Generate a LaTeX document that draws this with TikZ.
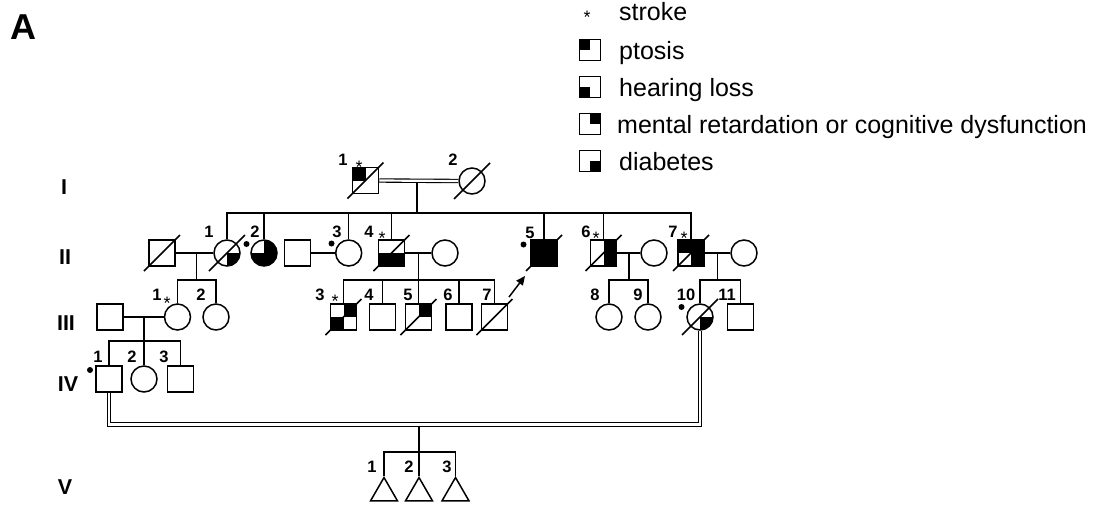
\documentclass[tikz,border=0pt]{standalone}
\usepackage{fontspec}
\setmainfont{Liberation Sans}
\usetikzlibrary{arrows.meta,shapes.geometric}
\newcommand\deceased[1]{\draw[lw] ([shift={(-18,18)}]#1.center) -- ([shift={(18,-18)}]#1.center);}
\begin{document}
\begin{tikzpicture}[x=1pt,y=-1pt,
  lw/.style={line width=1.5pt},
  dbl/.style={double,double distance=2.2pt,line width=1.1pt,line join=miter},
  sq/.style={draw,rectangle,minimum size=26pt,inner sep=0pt,line width=1.5pt,fill=white},
  ci/.style={draw,circle,minimum size=26pt,inner sep=0pt,line width=1.5pt,fill=white},
  lg/.style={draw,rectangle,minimum size=21pt,inner sep=0pt,line width=1.5pt,fill=white},
  tri/.style={draw,regular polygon,regular polygon sides=3,minimum size=31pt,inner sep=0pt,line width=1.5pt},
  q/.style={path picture={\foreach \c in {#1}{\fill[black] (path picture bounding box.center) rectangle (path picture bounding box.\c);}}},
  num/.style={font=\fontsize{16.5}{18}\selectfont\bfseries,inner sep=0pt},
  gen/.style={font=\fontsize{21.5}{24}\selectfont\bfseries,inner sep=0pt},
  st/.style={font=\fontsize{18}{18}\selectfont,inner sep=0pt},
  lt/.style={font=\fontsize{25}{28}\selectfont,inner sep=0pt,anchor=base west},
  dotst/.style={circle,fill=black,inner sep=0pt,minimum size=6pt}]
\useasboundingbox (0,0) rectangle (1099,507);

% title and generation labels
\node[font=\fontsize{36}{38}\selectfont\bfseries,inner sep=0pt] (tA) at (23,27) {A};
\node[gen] (gI) at (64,187) {I};
\node[gen] (gII) at (65,257) {II};
\node[gen] (gIII) at (66,323) {III};
\node[gen] (gIV) at (68,384) {IV};
\node[gen] (gV) at (65,487) {V};

% legend
\node[st] (lgs) at (587,17) {*};
\node[lt] (lgst) at (619,20) {stroke};
\node[lg,q={north west}] (lg1) at (590,50) {};
\node[lt] (lgt1) at (619,59) {ptosis};
\node[lg,q={south west}] (lg2) at (590,87) {};
\node[lt] (lgt2) at (619,96) {hearing loss};
\node[lg,q={north east}] (lg3) at (590,124) {};
\node[lt] (lgt3) at (617,133) {mental retardation or cognitive dysfunction};
\node[lg,q={south east}] (lg4) at (590,161) {};
\node[lt] (lgt4) at (619,170) {diabetes};

% Generation I
\node[sq,q={north west}] (I1) at (365.5,180.5) {};
\node[ci] (I2) at (472,181) {};
\deceased{I1}\deceased{I2}
\draw[dbl] (I1.east) -- (I2.west);
\node[num] (nI1) at (343,160) {1};
\node[st] (sI1) at (359,167) {*};
\node[num] (nI2) at (453,160) {2};
\coordinate (Im) at (417,183);
\coordinate (Isib) at (417,213);
\draw[lw] (Im) -- (Isib);

% Generation II
\node[sq] (IIh1) at (162,253) {};
\node[ci,q={south east}] (II1) at (227,253) {};
\node[ci,q={south west,north east,south east}] (II2) at (264,253) {};
\node[sq] (IIh3) at (297.5,253) {};
\node[ci] (II3) at (348.7,253) {};
\node[sq,q={south west,south east}] (II4) at (391.5,253) {};
\node[ci] (IIw4) at (445,253) {};
\node[sq,fill=black] (II5) at (544,253) {};
\node[sq,q={north east,south east}] (II6) at (603.5,253) {};
\node[ci] (IIw6) at (654,253) {};
\node[sq,q={north west,north east,south east}] (II7) at (691,253) {};
\node[ci] (IIw7) at (744,253) {};
\deceased{IIh1}\deceased{II1}\deceased{II4}\deceased{II5}\deceased{II6}\deceased{II7}

\draw[lw] (II1.north) -- (II1.north |- Isib) -- (II7.north |- Isib) -- (II7.north);
\foreach \n in {II2,II3,II4,II5,II6} \draw[lw] (\n.north) -- (\n.north |- Isib);

\draw[lw] (IIh1) -- (II1);
\draw[lw] (IIh3) -- (II3);
\draw[lw] (II4) -- (IIw4);
\draw[lw] (II6) -- (IIw6);
\draw[lw] (II7) -- (IIw7);

\node[num] (nII1) at (209,232) {1};
\node[num] (nII2) at (255,232) {2};
\node[dotst] (dII2) at (246.5,244) {};
\node[num] (nII3) at (337,232) {3};
\node[dotst] (dII3) at (331.5,243.5) {};
\node[num] (nII4) at (369,232) {4};
\node[st] (sII4) at (382,238) {*};
\node[num] (nII5) at (530,233) {5};
\node[dotst] (dII5) at (523.5,244.5) {};
\node[num] (nII6) at (586,232) {6};
\node[st] (sII6) at (596,238) {*};
\node[num] (nII7) at (673,232) {7};
\node[st] (sII7) at (684,238) {*};

% proband arrow
\coordinate (arrS) at (509,297);
\coordinate (arrE) at (525,276);
\draw[lw,-{Triangle[length=9pt,width=8pt]}] (arrS) -- (arrE);

% Generation III
\node[sq] (IIIh1) at (110,317) {};
\node[ci] (III1) at (177.5,317) {};
\node[ci] (III2) at (216,317) {};
\node[sq,q={north east,south west}] (III3) at (343.5,317) {};
\node[sq] (III4) at (382.5,317) {};
\node[sq,q={north east}] (III5) at (418.5,317) {};
\node[sq] (III6) at (459,317) {};
\node[sq] (III7) at (494.5,317) {};
\node[ci] (III8) at (609,317) {};
\node[ci] (III9) at (648,317) {};
\node[ci,q={south east}] (III10) at (700,317) {};
\node[sq] (III11) at (740.5,317) {};
\deceased{III3}\deceased{III5}\deceased{III7}\deceased{III10}

\coordinate (m1) at (196.5,253); \coordinate (s1) at (196.5,280);
\draw[lw] (m1) -- (s1);
\draw[lw] (III1.north) -- (III1.north |- s1) -- (III2.north |- s1) -- (III2.north);

\coordinate (m4) at (418.5,253); \coordinate (s4) at (418.5,280);
\draw[lw] (m4) -- (III5.north);
\draw[lw] (III3.north) -- (III3.north |- s4) -- (III7.north |- s4) -- (III7.north);
\foreach \n in {III4,III6} \draw[lw] (\n.north) -- (\n.north |- s4);

\coordinate (m6) at (629,253); \coordinate (s6) at (629,280);
\draw[lw] (m6) -- (s6);
\draw[lw] (III8.north) -- (III8.north |- s6) -- (III9.north |- s6) -- (III9.north);

\coordinate (m7) at (717.5,253); \coordinate (s7) at (717.5,280);
\draw[lw] (m7) -- (s7);
\draw[lw] (III10.north) -- (III10.north |- s7) -- (III11.north |- s7) -- (III11.north);

\draw[lw] (IIIh1) -- (III1);

\node[num] (nIII1) at (157,295) {1};
\node[st] (sIII1) at (167,303) {*};
\node[num] (nIII2) at (201,295) {2};
\node[num] (nIII3) at (320,295) {3};
\node[st] (sIII3) at (335,301) {*};
\node[num] (nIII4) at (369,295) {4};
\node[num] (nIII5) at (408,295) {5};
\node[num] (nIII6) at (448,295) {6};
\node[num] (nIII7) at (487,295) {7};
\node[num] (nIII8) at (595,295) {8};
\node[num] (nIII9) at (638,295) {9};
\node[num] (nIII10) at (686,295) {10};
\node[dotst] (dIII10) at (681.5,307) {};
\node[num] (nIII11) at (727,295) {11};

% Generation IV
\node[sq] (IV1) at (109,379) {};
\node[ci] (IV2) at (144,379) {};
\node[sq] (IV3) at (180.5,379) {};
\coordinate (m31) at (144,317); \coordinate (s31) at (144,341);
\draw[lw] (m31) -- (IV2.north);
\draw[lw] (IV1.north) -- (IV1.north |- s31) -- (IV3.north |- s31) -- (IV3.north);
\node[num] (nIV1) at (98,357) {1};
\node[dotst] (dIV1) at (90,370) {};
\node[num] (nIV2) at (132,357) {2};
\node[num] (nIV3) at (164,357) {3};

% consanguineous union IV-1 x III-10
\coordinate (vm) at (419,424.5);
\draw[dbl] (IV1.south) -- (IV1.south |- vm) -- (III10.south |- vm) -- (III10.south);

% Generation V
\node[tri] (V1) at (384,493) {};
\node[tri] (V2) at (419,493) {};
\node[tri] (V3) at (455.5,493) {};
\coordinate (vtop) at (419,426.5); \coordinate (vs) at (419,452);
\draw[lw] (vtop) -- (V2.north);
\draw[lw] (V1.north) -- (V1.north |- vs) -- (V3.north |- vs) -- (V3.north);
\node[num] (nV1) at (372,467) {1};
\node[num] (nV2) at (409,467) {2};
\node[num] (nV3) at (447,467) {3};
\end{tikzpicture}
\end{document}
